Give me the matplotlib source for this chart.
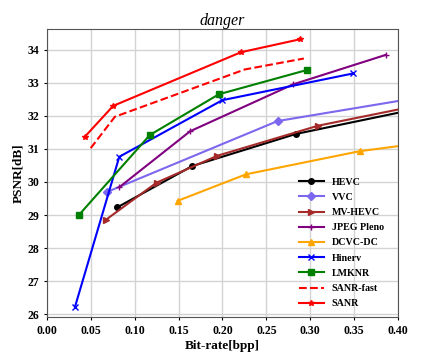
import matplotlib.pyplot as plt

plt.rcParams['font.family'] = ['Liberation Serif', 'DejaVu Serif']

# data (bpp, PSNR)
hevc_x = [0.080, 0.1655, 0.2836, 0.460]
hevc_y = [29.23, 30.48, 31.45, 32.42]
vvc_x = [0.0687, 0.2628, 0.460]
vvc_y = [29.70, 31.84, 32.71]
mvhevc_x = [0.0668, 0.125, 0.194, 0.309, 0.460]
mvhevc_y = [28.85, 29.98, 30.79, 31.70, 32.51]
jpeg_x = [0.0824, 0.163, 0.2806, 0.386]
jpeg_y = [29.84, 31.53, 32.95, 33.84]
dcvc_x = [0.149, 0.2267, 0.3565, 0.460]
dcvc_y = [29.43, 30.23, 30.93, 31.29]
hinerv_x = [0.032, 0.0824, 0.1997, 0.349]
hinerv_y = [26.23, 30.76, 32.47, 33.28]
lmknr_x = [0.0364, 0.1173, 0.1959, 0.2958]
lmknr_y = [29.00, 31.42, 32.65, 33.38]
fast_x = [0.0498, 0.0774, 0.2255, 0.2927]
fast_y = [31.02, 31.97, 33.40, 33.73]
sanr_x = [0.0433, 0.0755, 0.221, 0.288]
sanr_y = [31.37, 32.30, 33.92, 34.31]

fig = plt.figure(figsize=(4.23, 3.63), dpi=100)
ax = fig.add_axes([0.111, 0.126, 0.830, 0.793])

lw = 1.5
ax.plot(hevc_x, hevc_y, color='black', marker='o', ms=4, lw=lw, label='HEVC')
ax.plot(vvc_x, vvc_y, color='#7B68EE', marker='D', ms=4, lw=lw, label='VVC')
ax.plot(mvhevc_x, mvhevc_y, color='#A52A2A', marker='>', ms=4, lw=lw, label='MV-HEVC')
ax.plot(jpeg_x, jpeg_y, color='purple', marker='+', ms=5, lw=lw, label='JPEG Pleno')
ax.plot(dcvc_x, dcvc_y, color='orange', marker='^', ms=4, lw=lw, label='DCVC-DC')
ax.plot(hinerv_x, hinerv_y, color='blue', marker='x', ms=4, lw=lw, label='Hinerv')
ax.plot(lmknr_x, lmknr_y, color='green', marker='s', ms=4, lw=lw, label='LMKNR')
ax.plot(fast_x, fast_y, color='red', ls='--', lw=lw, label='SANR-fast')
ax.plot(sanr_x, sanr_y, color='red', marker='*', ms=4, lw=lw, label='SANR')

ax.set_xlim(0.0, 0.40)
ax.set_ylim(25.91, 34.61)
ax.set_xticks([0.0, 0.05, 0.10, 0.15, 0.20, 0.25, 0.30, 0.35, 0.40])
ax.set_yticks([26, 27, 28, 29, 30, 31, 32, 33, 34])
ax.xaxis.set_major_formatter(plt.FormatStrFormatter('%.2f'))
ax.grid(True, color='#d3d3d3', lw=1)
ax.set_axisbelow(True)
for s in ax.spines.values():
    s.set_color('#555555')
ax.tick_params(labelsize=8.5, length=2)
for lab in ax.get_xticklabels() + ax.get_yticklabels():
    lab.set_fontweight('bold')

ax.set_xlabel('Bit-rate[bpp]', fontsize=9.5, fontweight='bold', labelpad=2)
ax.set_ylabel('PSNR[dB]', fontsize=9.5, fontweight='bold', labelpad=2)
ax.set_title('danger', fontsize=11.5, style='italic', pad=3)

ax.legend(loc='lower right', frameon=False, prop={'weight': 'bold', 'size': 7.2},
          handlelength=2.5, labelspacing=0.62, handletextpad=0.8,
          bbox_to_anchor=(0.985, 0.0))

fig.savefig('out.png', dpi=100)
